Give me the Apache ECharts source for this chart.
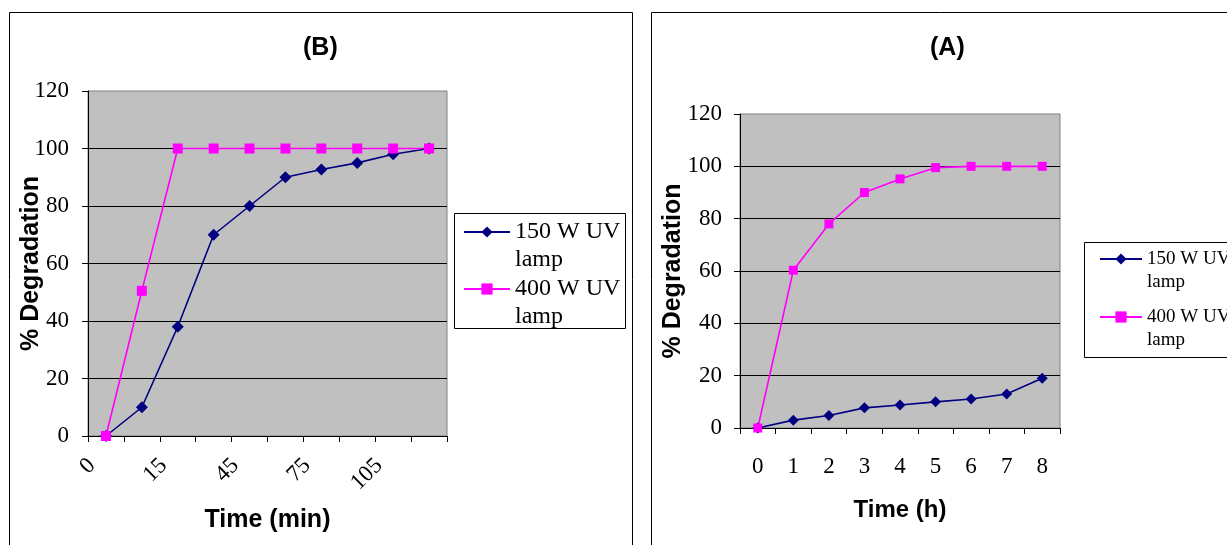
<!DOCTYPE html>
<html><head><meta charset="utf-8">
<script src="https://cdn.jsdelivr.net/npm/echarts@6/dist/echarts.min.js"></script>
<style>html,body{margin:0;padding:0;background:#fff}#c{width:1227px;height:545px}</style>
</head><body><div id="c"></div>
<script>
// ---- data ----
const minCategories = ["0", "5", "15", "30", "45", "60", "75", "90", "105", "120"];
const minLamp150 = [0, 10, 38, 70, 80, 90, 92.7, 95, 98, 100];
const minLamp400 = [0, 50.5, 100, 100, 100, 100, 100, 100, 100, 100];
const hourCategories = ["0", "1", "2", "3", "4", "5", "6", "7", "8"];
const hourLamp150 = [0, 3, 4.8, 7.7, 8.8, 10, 11.1, 13, 19];
const hourLamp400 = [0, 60.3, 78, 90, 95.2, 99.5, 100, 100, 100];
const seriesNames = ["150 W UV lamp", "400 W UV lamp"];
const panelTitles = ["(B)", "(A)"];
const xNames = ["Time (min)", "Time (h)"];
const yName = "% Degradation";
const yMin = 0, yMax = 120, yStep = 20;

const SERIF = "'Liberation Serif', 'Times New Roman', serif";
const SANS = "'Liberation Sans', Arial, sans-serif";

const chart = echarts.init(document.getElementById('c'), null, {renderer: 'canvas'});

function yAxis(gridIndex, margin, nameGap) {
  return {
    type: 'value', gridIndex, min: yMin, max: yMax, interval: yStep,
    name: yName, nameLocation: 'middle', nameGap, nameMoveOverlap: false,
    nameTextStyle: {fontFamily: SANS, fontWeight: 'bold', fontSize: 25, color: '#000'},
    axisLine: {show: true, lineStyle: {color: '#000', width: 1}},
    axisTick: {show: true, length: 6, lineStyle: {color: '#000', width: 1}},
    axisLabel: {margin, fontFamily: SERIF, fontSize: 23, color: '#000'},
    splitLine: {show: true, showMinLine: false, showMaxLine: false, lineStyle: {color: '#000', width: 1}}
  };
}

function lineSeries(name, data, xi, color, symbol, size) {
  return {
    type: 'line', name, data, xAxisIndex: xi, yAxisIndex: xi,
    symbol, symbolSize: size, showAllSymbol: true,
    lineStyle: {color, width: 1.6}, itemStyle: {color},
    emphasis: {disabled: true}
  };
}

// legend text: a blank first line keeps the sample mark on the first text line
function legend(left, top, itemWidth, fontSize, lineHeight, gap) {
  return {
    orient: 'vertical', left, top, padding: 0,
    itemWidth, itemHeight: 14, itemGap: gap,
    data: seriesNames, selectedMode: false,
    formatter: n => '\u00a0\n' + n.replace(' lamp', '\nlamp'),
    textStyle: {fontFamily: SERIF, fontSize, lineHeight, color: '#000'}
  };
}

chart.setOption({
  animation: false,
  backgroundColor: '#fff',
  title: [
    {text: panelTitles[0], left: 303, top: 36, padding: 0,
     textStyle: {fontFamily: SANS, fontWeight: 'bold', fontSize: 25, color: '#000'}},
    {text: panelTitles[1], left: 930, top: 36, padding: 0,
     textStyle: {fontFamily: SANS, fontWeight: 'bold', fontSize: 25, color: '#000'}}
  ],
  graphic: [
    {type: 'rect', shape: {x: 9.5, y: 12.5, width: 623, height: 600}, style: {fill: 'none', stroke: '#000', lineWidth: 1}, silent: true, z: -10},
    {type: 'rect', shape: {x: 651.5, y: 12.5, width: 700, height: 600}, style: {fill: 'none', stroke: '#000', lineWidth: 1}, silent: true, z: -10},
    {type: 'rect', shape: {x: 454.5, y: 213.5, width: 171, height: 115}, style: {fill: '#fff', stroke: '#000', lineWidth: 1}, silent: true, z: -5},
    {type: 'rect', shape: {x: 1084.5, y: 242.5, width: 200, height: 115}, style: {fill: '#fff', stroke: '#000', lineWidth: 1}, silent: true, z: -5}
  ],
  legend: [
    legend(463, 190, 46, 24, 28, -27),
    legend(1099, 224.5, 42, 19, 23, -11)
  ],
  grid: [
    {left: 88, top: 91, width: 359, height: 345, show: true, backgroundColor: '#c0c0c0', borderColor: '#808080', borderWidth: 1},
    {left: 740, top: 114, width: 320, height: 314, show: true, backgroundColor: '#c0c0c0', borderColor: '#808080', borderWidth: 1}
  ],
  xAxis: [
    {type: 'category', gridIndex: 0, data: minCategories, boundaryGap: true,
     name: xNames[0], nameLocation: 'middle', nameGap: 72, nameMoveOverlap: false,
     nameTextStyle: {fontFamily: SANS, fontWeight: 'bold', fontSize: 25, color: '#000'},
     axisLine: {lineStyle: {color: '#000', width: 1}},
     axisTick: {show: true, interval: 0, length: 6, lineStyle: {color: '#000'}},
     axisLabel: {interval: 1, rotate: 45, margin: 12, padding: [0, 20, 0, 0], fontFamily: SERIF, fontSize: 23, color: '#000'},
     splitLine: {show: false}},
    {type: 'category', gridIndex: 1, data: hourCategories, boundaryGap: true,
     name: xNames[1], nameLocation: 'middle', nameGap: 70, nameMoveOverlap: false,
     nameTextStyle: {fontFamily: SANS, fontWeight: 'bold', fontSize: 24, color: '#000'},
     axisLine: {lineStyle: {color: '#000', width: 1}},
     axisTick: {show: true, interval: 0, length: 6, lineStyle: {color: '#000'}},
     axisLabel: {interval: 0, margin: 27, fontFamily: SERIF, fontSize: 23, color: '#000'},
     splitLine: {show: false}}
  ],
  yAxis: [yAxis(0, 19, 44), yAxis(1, 18, 54)],
  series: [
    lineSeries(seriesNames[0], minLamp150, 0, '#000080', 'diamond', 12),
    lineSeries(seriesNames[1], minLamp400, 0, '#ff00ff', 'rect', 10),
    lineSeries(seriesNames[0], hourLamp150, 1, '#000080', 'diamond', 11),
    lineSeries(seriesNames[1], hourLamp400, 1, '#ff00ff', 'rect', 9)
  ]
});
</script>
</body></html>
